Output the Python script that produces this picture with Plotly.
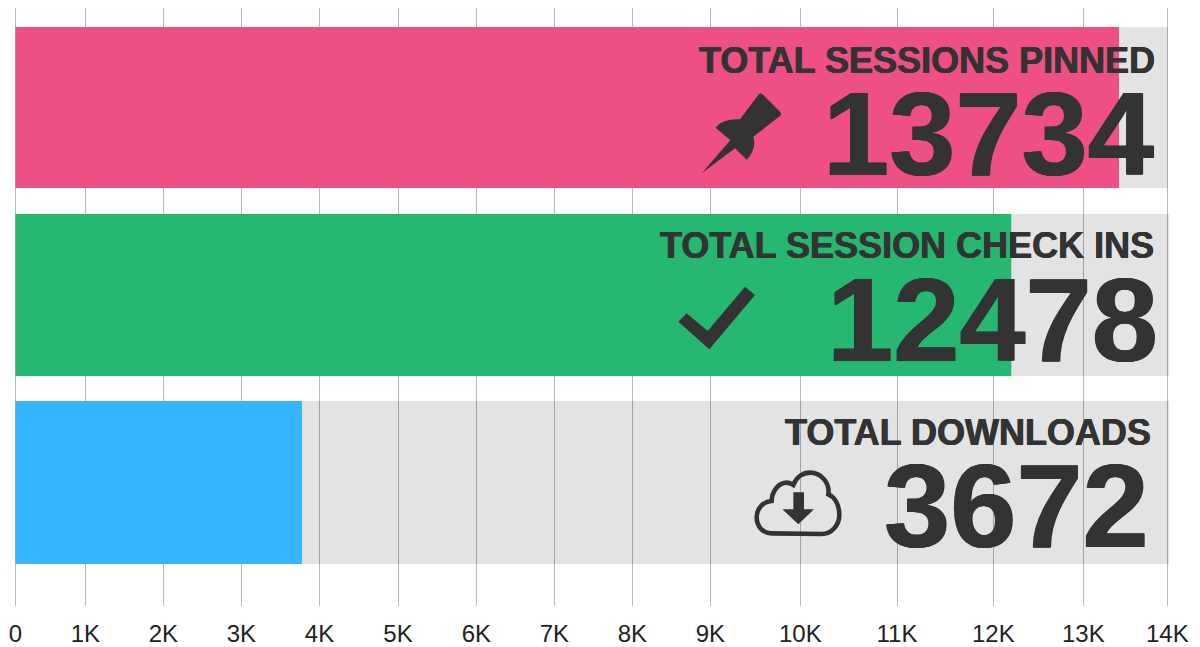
import numpy as np
import plotly.graph_objects as go

# --- data ---
categories = ["Total Sessions Pinned", "Total Session Check Ins", "Total Downloads"]
titles = ["TOTAL SESSIONS PINNED", "TOTAL SESSION CHECK INS", "TOTAL DOWNLOADS"]
displayed_totals = [13734, 12478, 3672]
bar_lengths = [13425, 12200, 3776]      # where each bar ends, read against the axis
track_lengths = [14005, 14020, 14020]
tick_values = [0, 1000, 2000, 3000, 4000, 5000, 6000, 7000, 8000, 9000, 10000, 11000, 12000, 13000, 14000]
tick_labels = ["0", "1K", "2K", "3K", "4K", "5K", "6K", "7K", "8K", "9K", "10K", "11K", "12K", "13K", "14K"]
# the printed axis is irregular: where each tick sits along the axis
tick_positions = [15.5, 85.3, 163.3, 241.3, 319.5, 398, 476.3, 554.3, 632.3, 710.3, 800.3, 897, 993.3, 1083.3, 1167.3]

W, H = 1200, 647
TOP, BOTTOM = 8, 606
TEXT = "#333333"
FONT = "Liberation Sans, Arial, Helvetica, sans-serif"
bar_colors = ["#EE4F85", "#26B771", "#35B6FF"]
bar_thickness = [0.858, 0.864, 0.87]


def to_axis(v):
    return np.interp(v, tick_values + [15000], tick_positions + [1251.3])


def px(x):
    return x / W


def py(y):
    return (BOTTOM - y) / (BOTTOM - TOP)


def icon_path(cmds, ox, oy, s=3.0):
    out = []
    for c in cmds:
        if c == "Z":
            out.append("Z")
            continue
        pts = c[1:]
        xy = " ".join(
            f"{px(ox + pts[i] / s):.6f},{py(oy + pts[i + 1] / s):.6f}" for i in range(0, len(pts), 2)
        )
        out.append(c[0] + xy)
    return " ".join(out)


base = float(to_axis(0))
fig = go.Figure()
fig.add_bar(
    y=categories, x=[float(to_axis(v)) - base for v in track_lengths], base=base, orientation="h",
    marker=dict(color="rgba(0,0,0,0.11)", line=dict(width=0)), width=bar_thickness, hoverinfo="skip", showlegend=False,
)
fig.add_bar(
    y=categories, x=[float(to_axis(v)) - base for v in bar_lengths], base=base, orientation="h",
    marker=dict(color=bar_colors, line=dict(width=0)), width=bar_thickness, showlegend=False,
    customdata=displayed_totals, hovertemplate="%{y}: %{customdata}<extra></extra>",
)

title_pos = [(1156, 60), (1155, 246), (1152, 432)]
value_pos = [(1155, 133), (1159, 319), (1150, 505)]
T_SHADOW = f"0.4px 0 0 {TEXT}, -0.4px 0 0 {TEXT}"
V_SHADOW = f"0.7px 0 0 {TEXT}, -0.7px 0 0 {TEXT}"
annotations = []
for t, v, (tx, ty), (vx, vy) in zip(titles, displayed_totals, title_pos, value_pos):
    annotations.append(dict(text=t, x=px(tx), y=py(ty), xref="paper", yref="paper", xanchor="right", yanchor="middle",
                            showarrow=False, borderpad=0,
                            font=dict(family=FONT, size=36, color=TEXT, weight="bold", shadow=T_SHADOW)))
    annotations.append(dict(text=str(v), x=px(vx), y=py(vy), xref="paper", yref="paper", xanchor="right", yanchor="middle",
                            showarrow=False, borderpad=0,
                            font=dict(family=FONT, size=119, color=TEXT, weight="bold", shadow=V_SHADOW)))

pin = [("M", 20, 265), ("L", 106, 166), ("L", 62, 128), ("C", 72, 112, 100, 100, 135, 103), ("L", 190, 30),
       ("C", 194, 24, 200, 24, 205, 30), ("L", 255, 80), ("C", 260, 86, 259, 92, 250, 97), ("L", 175, 155),
       ("C", 183, 180, 172, 208, 155, 224), ("L", 120, 190), "Z"]
check = [("M", 255, 50), ("L", 285, 75), ("L", 148, 238), ("L", 55, 155), ("L", 80, 130), ("L", 143, 183), "Z"]
cloud = [("M", 95, 220), ("C", 65, 220, 50, 195, 50, 172), ("C", 50, 145, 70, 125, 95, 123),
         ("C", 95, 95, 115, 68, 140, 68), ("C", 150, 68, 155, 72, 160, 75), ("C", 170, 50, 190, 38, 210, 38),
         ("C", 245, 38, 270, 70, 265, 103), ("C", 285, 112, 298, 135, 298, 165), ("C", 298, 195, 275, 222, 245, 222), "Z"]
arrow = [("M", 160, 97), ("L", 192, 97), ("L", 192, 148), ("L", 222, 148), ("L", 175, 193), ("L", 127, 148), ("L", 160, 148), "Z"]

shapes = [
    dict(type="path", xref="paper", yref="paper", path=icon_path(pin, 695, 85), fillcolor=TEXT, line=dict(width=0), layer="above"),
    dict(type="path", xref="paper", yref="paper", path=icon_path(check, 660, 270), fillcolor=TEXT, line=dict(width=0), layer="above"),
    dict(type="path", xref="paper", yref="paper", path=icon_path(cloud, 740, 460), fillcolor="rgba(0,0,0,0)", line=dict(width=4.6, color=TEXT), layer="above"),
    dict(type="path", xref="paper", yref="paper", path=icon_path(arrow, 740, 460), fillcolor=TEXT, line=dict(width=0), layer="above"),
]

fig.update_layout(
    width=W, height=H, autosize=False, barmode="overlay", paper_bgcolor="white", plot_bgcolor="white",
    margin=dict(l=0, r=0, t=TOP, b=H - BOTTOM, pad=0), showlegend=False,
    annotations=annotations, shapes=shapes, font=dict(family=FONT, color="#222222"),
    xaxis=dict(range=[0, W], tickmode="array", tickvals=tick_positions, ticktext=tick_labels,
               showgrid=True, gridcolor="#B8B8B8", gridwidth=1, zeroline=False, showline=False, ticks="",
               ticklabelstandoff=11, tickangle=0, tickfont=dict(family=FONT, size=24, color="#222222"), automargin=False, fixedrange=True),
    yaxis=dict(type="category", categoryorder="array", categoryarray=categories,
               range=[2.6587, -0.5307], autorange=False, showgrid=False, zeroline=False, showline=False,
               showticklabels=False, ticks="", automargin=False, fixedrange=True),
)
fig.write_html("out.html", config={"displayModeBar": False},
               post_script="document.body.style.margin='0';document.documentElement.style.overflow='hidden';")
